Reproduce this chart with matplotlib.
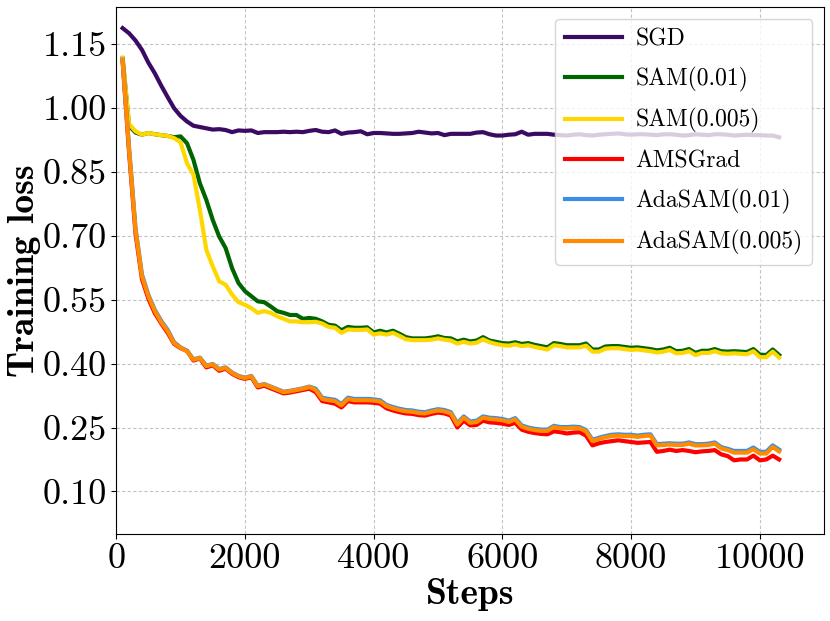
import numpy as np
import matplotlib
matplotlib.use("Agg")
import matplotlib.pyplot as plt

# 학습 단계 (100 ~ 10300)
steps = np.arange(100, 10400, 100)

sgd = [1.187, 1.175, 1.158, 1.136, 1.106, 1.081, 1.052, 1.025, 0.999, 0.981,
       0.968, 0.958, 0.955, 0.952, 0.949, 0.950, 0.948, 0.943, 0.947, 0.946,
       0.947, 0.941, 0.943, 0.943, 0.943, 0.944, 0.943, 0.944, 0.943, 0.946,
       0.948, 0.944, 0.943, 0.947, 0.939, 0.942, 0.943, 0.945, 0.938, 0.941,
       0.941, 0.940, 0.939, 0.939, 0.940, 0.941, 0.944, 0.942, 0.940, 0.941,
       0.936, 0.939, 0.939, 0.939, 0.939, 0.942, 0.943, 0.938, 0.935, 0.935,
       0.937, 0.938, 0.944, 0.937, 0.939, 0.939, 0.939, 0.937, 0.936, 0.935,
       0.937, 0.938, 0.936, 0.935, 0.937, 0.938, 0.939, 0.940, 0.938, 0.937,
       0.938, 0.938, 0.937, 0.936, 0.938, 0.938, 0.937, 0.935, 0.936, 0.938,
       0.937, 0.936, 0.938, 0.938, 0.937, 0.935, 0.936, 0.937, 0.936, 0.936,
       0.935, 0.935, 0.931]

sam_01 = [1.116, 0.958, 0.942, 0.937, 0.941, 0.938, 0.936, 0.934, 0.931, 0.933,
          0.917, 0.878, 0.823, 0.784, 0.737, 0.698, 0.671, 0.624, 0.589, 0.570,
          0.558, 0.546, 0.544, 0.534, 0.523, 0.519, 0.514, 0.514, 0.505, 0.507,
          0.505, 0.499, 0.491, 0.489, 0.478, 0.486, 0.484, 0.484, 0.485, 0.473,
          0.477, 0.473, 0.477, 0.470, 0.462, 0.459, 0.459, 0.459, 0.461, 0.464,
          0.460, 0.459, 0.452, 0.456, 0.452, 0.454, 0.462, 0.454, 0.451, 0.448,
          0.447, 0.450, 0.446, 0.448, 0.444, 0.441, 0.438, 0.448, 0.446, 0.443,
          0.443, 0.443, 0.447, 0.433, 0.433, 0.440, 0.441, 0.441, 0.439, 0.437,
          0.438, 0.436, 0.434, 0.431, 0.433, 0.437, 0.429, 0.430, 0.434, 0.425,
          0.430, 0.430, 0.434, 0.429, 0.428, 0.429, 0.428, 0.427, 0.434, 0.421,
          0.420, 0.433, 0.420]

sam_005 = [1.118, 0.962, 0.945, 0.937, 0.941, 0.938, 0.936, 0.934, 0.929, 0.919,
           0.870, 0.843, 0.761, 0.667, 0.628, 0.593, 0.585, 0.562, 0.544, 0.538,
           0.530, 0.519, 0.523, 0.519, 0.511, 0.505, 0.499, 0.499, 0.497, 0.497,
           0.498, 0.494, 0.486, 0.484, 0.472, 0.480, 0.479, 0.479, 0.480, 0.468,
           0.471, 0.468, 0.472, 0.465, 0.457, 0.455, 0.455, 0.455, 0.456, 0.459,
           0.456, 0.454, 0.447, 0.451, 0.447, 0.449, 0.457, 0.450, 0.446, 0.443,
           0.442, 0.445, 0.441, 0.443, 0.439, 0.436, 0.433, 0.443, 0.441, 0.438,
           0.438, 0.438, 0.442, 0.428, 0.428, 0.435, 0.436, 0.436, 0.434, 0.432,
           0.433, 0.431, 0.429, 0.426, 0.428, 0.432, 0.424, 0.425, 0.429, 0.420,
           0.425, 0.425, 0.429, 0.424, 0.423, 0.424, 0.423, 0.422, 0.429, 0.415,
           0.415, 0.428, 0.414]

amsgrad = [1.108, 0.895, 0.705, 0.598, 0.552, 0.518, 0.494, 0.472, 0.446, 0.436,
           0.430, 0.407, 0.412, 0.391, 0.396, 0.383, 0.388, 0.376, 0.368, 0.364,
           0.368, 0.344, 0.348, 0.342, 0.336, 0.330, 0.332, 0.335, 0.338, 0.341,
           0.333, 0.312, 0.309, 0.306, 0.297, 0.312, 0.309, 0.309, 0.309, 0.308,
           0.306, 0.295, 0.290, 0.286, 0.283, 0.282, 0.279, 0.278, 0.282, 0.285,
           0.283, 0.278, 0.250, 0.266, 0.255, 0.256, 0.266, 0.262, 0.261, 0.259,
           0.256, 0.261, 0.245, 0.240, 0.237, 0.235, 0.234, 0.241, 0.239, 0.236,
           0.238, 0.239, 0.231, 0.208, 0.213, 0.216, 0.218, 0.220, 0.218, 0.216,
           0.214, 0.215, 0.216, 0.193, 0.195, 0.198, 0.195, 0.197, 0.195, 0.192,
           0.194, 0.195, 0.197, 0.187, 0.183, 0.173, 0.175, 0.175, 0.184, 0.173,
           0.175, 0.184, 0.175]

adasam_01 = [1.113, 0.906, 0.718, 0.609, 0.561, 0.526, 0.500, 0.479, 0.450, 0.438,
             0.430, 0.410, 0.414, 0.395, 0.399, 0.387, 0.391, 0.379, 0.371, 0.367,
             0.371, 0.348, 0.352, 0.346, 0.340, 0.334, 0.336, 0.339, 0.342, 0.346,
             0.341, 0.320, 0.317, 0.315, 0.305, 0.320, 0.317, 0.317, 0.317, 0.316,
             0.314, 0.303, 0.298, 0.294, 0.291, 0.290, 0.287, 0.286, 0.290, 0.293,
             0.291, 0.286, 0.260, 0.276, 0.264, 0.266, 0.276, 0.273, 0.272, 0.270,
             0.266, 0.272, 0.255, 0.250, 0.247, 0.245, 0.245, 0.254, 0.251, 0.251,
             0.252, 0.251, 0.244, 0.221, 0.226, 0.230, 0.233, 0.234, 0.233, 0.233,
             0.231, 0.233, 0.234, 0.211, 0.212, 0.213, 0.212, 0.212, 0.215, 0.211,
             0.211, 0.212, 0.215, 0.204, 0.200, 0.195, 0.195, 0.195, 0.203, 0.193,
             0.193, 0.208, 0.198]

adasam_005 = [1.112, 0.903, 0.714, 0.605, 0.558, 0.523, 0.497, 0.476, 0.448, 0.437,
              0.429, 0.409, 0.413, 0.394, 0.398, 0.386, 0.390, 0.378, 0.370, 0.366,
              0.370, 0.347, 0.351, 0.345, 0.339, 0.333, 0.335, 0.338, 0.341, 0.345,
              0.338, 0.317, 0.314, 0.312, 0.302, 0.317, 0.314, 0.314, 0.314, 0.313,
              0.311, 0.300, 0.295, 0.291, 0.288, 0.287, 0.284, 0.283, 0.287, 0.290,
              0.288, 0.283, 0.257, 0.273, 0.261, 0.263, 0.273, 0.270, 0.269, 0.267,
              0.263, 0.269, 0.252, 0.247, 0.244, 0.242, 0.242, 0.251, 0.248, 0.248,
              0.249, 0.248, 0.241, 0.218, 0.223, 0.227, 0.230, 0.231, 0.230, 0.230,
              0.228, 0.230, 0.231, 0.208, 0.209, 0.210, 0.209, 0.209, 0.212, 0.208,
              0.208, 0.209, 0.212, 0.201, 0.197, 0.191, 0.191, 0.191, 0.199, 0.189,
              0.189, 0.204, 0.194]

labels = ['SGD', 'SAM(0.01)', 'SAM(0.005)', 'AMSGrad', 'AdaSAM(0.01)', 'AdaSAM(0.005)']
colors = ['#3b0a62', '#006400', '#ffd700', '#ff0000', '#3a8ee8', '#ff8c00']
series = [sgd, sam_01, sam_005, amsgrad, adasam_01, adasam_005]

yticks = [0.10, 0.25, 0.40, 0.55, 0.70, 0.85, 1.00, 1.15]
xticks = [0, 2000, 4000, 6000, 8000, 10000]

plt.rcParams['font.family'] = ['cmr10']
plt.rcParams['axes.formatter.use_mathtext'] = True

fig = plt.figure(figsize=(8.3, 6.21), dpi=100)
ax = fig.add_axes([0.140, 0.140, 0.853, 0.849])

for vals, lab, col in zip(series, labels, colors):
    ax.plot(steps, vals, color=col, lw=3, label=lab)

ax.set_xlim(0, 11000)
ax.set_ylim(0.0, 1.237)
ax.set_yticks(yticks)
ax.set_yticklabels([f'{v:.2f}' for v in yticks])
ax.set_xticks(xticks)
ax.set_xticklabels([str(v) for v in xticks])
ax.tick_params(labelsize=26, pad=3)
ax.grid(True, linestyle=(0, (3, 2)), color='#c4c4c4', linewidth=0.8)

ax.set_xlabel('Steps', fontsize=27, family='cmb10', labelpad=2)
ax.set_ylabel('Training loss', fontsize=27, family='cmb10', labelpad=1)

ax.legend(loc='upper right', fontsize=17, framealpha=0.8, handlelength=2.4,
          handletextpad=0.6, labelspacing=0.7)

fig.savefig('out.png', dpi=100)
